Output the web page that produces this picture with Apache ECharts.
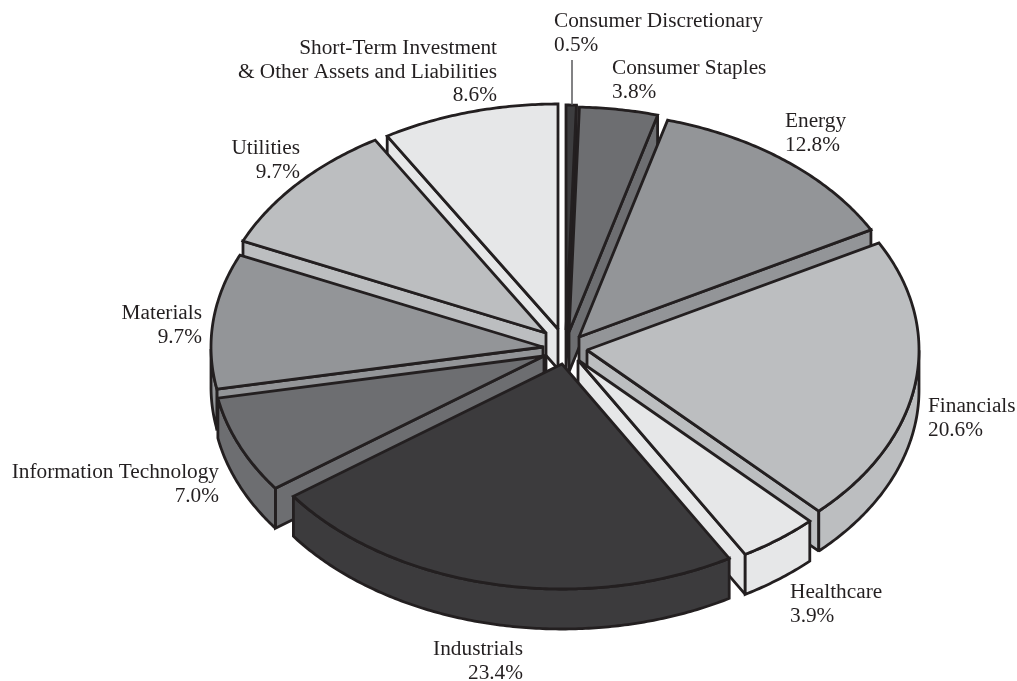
<!DOCTYPE html>
<html>
<head>
<meta charset="utf-8">
<style>html,body{margin:0;padding:0;background:#fff}#c{width:1017px;height:681px}</style>
<script src="https://cdn.jsdelivr.net/npm/echarts@6/dist/echarts.min.js"></script>
</head>
<body>
<div id="c"></div>
<script>
// Data
const categories = ['Consumer Discretionary','Consumer Staples','Energy','Financials','Healthcare','Industrials','Information Technology','Materials','Utilities','Short-Term Investment\n& Other Assets and Liabilities'];
const shares = [0.5,3.8,12.8,20.6,3.9,23.4,7.0,9.7,9.7,8.6];

// Styling / layout of the pseudo-3D pie
const fills = ['#3d3d3f','#6d6e71','#939598','#bcbec0','#e6e7e8','#3c3b3d','#6d6e71','#939598','#bcbec0','#e6e7e8'];
const ink = '#231f20';
const pie = {cx:565, cy:345, rx:332, ry:225, depth:40, lineWidth:2.8};
const explodeDX = [1,4,14,22,13,-3,-21,-22,-19,-7];
const explodeDY = [-15,-13,-8,5,15,19,11,2,-12,-16];
const drawOrder = [0,1,9,2,8,7,3,6,4,5];
const labelPlace = [[554,'left',10],[612,'left',57],[785,'left',110],[928,'left',395],[790,'left',581],[523,'right',638],[219,'right',461],[202,'right',302],[300,'right',137],[497,'right',37]];

let run = 0;
const startPct = shares.map(v => { const s = run; run += v; return s; });
const toAngle = p => p / run * Math.PI * 2;

function renderSlice(params, api) {
  const i = api.value(0);
  const a0 = toAngle(startPct[i]);
  const a1 = toAngle(startPct[i] + api.value(1));
  const tx = pie.cx + explodeDX[i], ty = pie.cy + explodeDY[i];
  const at = t => [tx + pie.rx * Math.sin(t), ty - pie.ry * Math.cos(t)];
  const down = p => [p[0], p[1] + pie.depth];
  const steps = Math.max(4, Math.ceil((a1 - a0) / 0.01));
  const arc = [];
  for (let k = 0; k <= steps; k++) arc.push(a0 + (a1 - a0) * k / steps);
  const style = {fill: fills[i], stroke: ink, lineWidth: pie.lineWidth, lineJoin: 'miter', miterLimit: 2};
  const poly = pts => ({type:'polygon', shape:{points:pts}, style});
  const tip = [tx, ty];
  const kids = [];
  // cut faces: only those turned towards the viewer
  if (Math.sin(a0) < 0) kids.push(poly([tip, at(a0), down(at(a0)), down(tip)]));
  if (Math.sin(a1) > 0) kids.push(poly([tip, at(a1), down(at(a1)), down(tip)]));
  // outer wall: only the part of the rim that faces the viewer
  const front = arc.filter(t => Math.cos(t) <= 0);
  if (front.length > 1) {
    const upper = front.map(at);
    kids.push(poly(upper.concat(upper.map(down).reverse())));
  }
  // top face
  kids.push(poly([tip].concat(arc.map(at))));
  return {type:'group', children:kids};
}

const chart = echarts.init(document.getElementById('c'), null, {renderer:'canvas'});
const labelFont = {fontFamily:'"Liberation Serif"', fontSize:21.3, lineHeight:23.3, fill:ink};
chart.setOption({
  backgroundColor:'#fff',
  animation:false,
  series:[{
    type:'custom',
    coordinateSystem:'none',
    silent:true,
    renderItem:renderSlice,
    data:drawOrder.map(i => [i, shares[i]])
  }],
  graphic:{elements:[
    {type:'line', z:5, shape:{x1:572,y1:60,x2:572,y2:105}, style:{stroke:'#58595b', lineWidth:1.5}}
  ].concat(categories.map((name,i) => ({
    type:'text', z:5,
    x:labelPlace[i][0], y:labelPlace[i][2],
    style:Object.assign({text:name + '\n' + shares[i].toFixed(1) + '%', align:labelPlace[i][1], verticalAlign:'top'}, labelFont)
  })))}
});
</script>
</body>
</html>
